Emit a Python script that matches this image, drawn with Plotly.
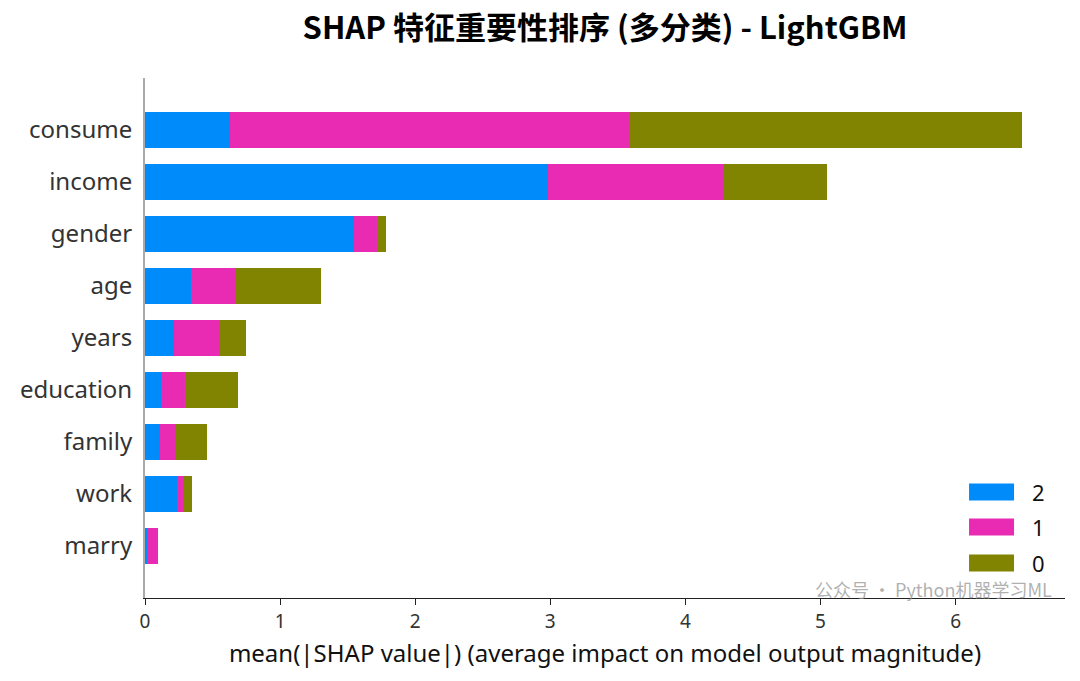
import plotly.graph_objects as go

features = ["consume", "income", "gender", "age", "years", "education", "family", "work", "marry"]
class_names = ["2", "1", "0"]
vals_2 = [0.63, 2.985, 1.548, 0.34, 0.215, 0.119, 0.111, 0.237, 0.015]
vals_1 = [2.955, 1.296, 0.171, 0.327, 0.333, 0.178, 0.111, 0.052, 0.074]
vals_0 = [2.91, 0.77, 0.067, 0.637, 0.2, 0.393, 0.237, 0.059, 0.007]
colors = ["#008bfb", "#e92bb3", "#808400"]

series = [vals_2, vals_1, vals_0]

font_family = "Noto Sans, Open Sans, sans-serif"
fig = go.Figure()
for name, vals, col in zip(class_names, series, colors):
    fig.add_trace(go.Bar(
        y=features, x=vals, name=name, orientation="h",
        marker=dict(color=col, line=dict(width=0)), width=0.7, showlegend=False,
    ))

fig.update_layout(
    barmode="stack",
    width=1080, height=681,
    margin=dict(l=145, r=15, t=78, b=83),
    plot_bgcolor="white", paper_bgcolor="white",
    font=dict(family=font_family, color="#333"),
    title=dict(text="<b>SHAP 特征重要性排序 (多分类) - LightGBM</b>",
               x=0.5, xref="paper", xanchor="center", y=0.958, yanchor="middle",
               font=dict(size=31, color="black", family="Noto Sans CJK SC, Noto Sans, sans-serif")),
    xaxis=dict(range=[0, 6.81], tickvals=[0, 1, 2, 3, 4, 5, 6], showgrid=False, zeroline=False,
               showline=True, linecolor="#222", linewidth=1.2, ticks="outside", ticklen=6,
               tickcolor="#222", tickfont=dict(size=19, color="#333"),
               title=dict(text="mean(|SHAP value|) (average impact on model output magnitude)",
                          font=dict(size=24, color="#111"), standoff=12)),
    yaxis=dict(categoryorder="array", categoryarray=features[::-1], range=[-1, 9],
               showgrid=False, zeroline=False, showline=True, linecolor="#aaa", linewidth=1.5,
               ticks="", tickfont=dict(size=24, color="#333"), ticksuffix=" "),
    bargap=0.3,
)

# custom legend with wide swatches (like matplotlib)
legend_y = [0.2038, 0.1365, 0.0673]
for name, col, yc in zip(class_names, colors, legend_y):
    fig.add_shape(type="rect", xref="paper", yref="paper",
                  x0=0.8957, x1=0.9446, y0=yc - 0.0163, y1=yc + 0.0163,
                  fillcolor=col, line=dict(width=0))
    fig.add_annotation(text=name, xref="paper", yref="paper", x=0.962, y=yc,
                       xanchor="left", yanchor="middle", showarrow=False,
                       font=dict(size=22, color="#111"))

fig.add_annotation(text="公众号 · Python机器学习ML", xref="paper", yref="paper",
                   x=0.9875, y=0.0165, xanchor="right", yanchor="middle", showarrow=False,
                   font=dict(size=18, color="rgba(150,150,150,0.75)",
                             family="Noto Sans CJK SC, Noto Sans, sans-serif"))

fig.write_html("out.html")
